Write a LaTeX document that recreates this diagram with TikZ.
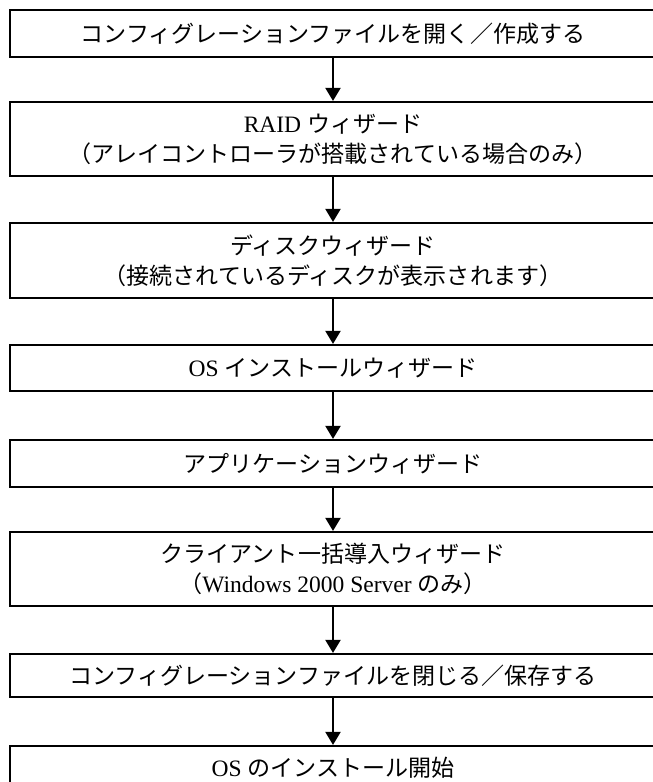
\documentclass[tikz,border=0pt]{standalone}
\usepackage{fontspec}
\setmainfont{Liberation Serif}
\newfontfamily\cjk[Scale=0.98]{Noto Sans CJK JP}
\usetikzlibrary{arrows.meta}
\begin{document}
\begin{tikzpicture}[x=1pt,y=-1pt,
  box/.style={draw,line width=2.2pt,minimum width=646pt,inner sep=0pt,align=center,
    font=\fontsize{23.5}{30}\selectfont},
  arr/.style={line width=2pt,-{Triangle[width=15pt,length=13pt]}}]
\useasboundingbox (0,0) rectangle (653,782);
\clip (0,0) rectangle (653,782);
\node[box,minimum height=47pt] (b1) at (333,33.5) {{\cjk コンフィグレーションファイルを開く／作成する}};
\node[box,minimum height=74pt] (b2) at (333,139) {RAID {\cjk ウィザード}\\{\cjk （アレイコントローラが搭載されている場合のみ）}};
\node[box,minimum height=75pt] (b3) at (333,260.5) {{\cjk ディスクウィザード}\\{\cjk （接続されているディスクが表示されます）}};
\node[box,minimum height=46pt] (b4) at (333,368) {OS {\cjk インストールウィザード}};
\node[box,minimum height=47pt] (b5) at (333,463.5) {{\cjk アプリケーションウィザード}};
\node[box,minimum height=74pt] (b6) at (333,569) {{\cjk クライアント一括導入ウィザード}\\{\cjk （}Windows 2000 Server {\cjk のみ）}};
\node[box,minimum height=43pt] (b7) at (333,675.5) {{\cjk コンフィグレーションファイルを閉じる／保存する}};
\node[box,minimum height=44pt] (b8) at (333,768) {OS {\cjk のインストール開始}};
\draw[arr] (b1.south) -- (b2.north);
\draw[arr] (b2.south) -- (b3.north);
\draw[arr] (b3.south) -- (b4.north);
\draw[arr] (b4.south) -- (b5.north);
\draw[arr] (b5.south) -- (b6.north);
\draw[arr] (b6.south) -- (b7.north);
\draw[arr] (b7.south) -- (b8.north);
\end{tikzpicture}
\end{document}
